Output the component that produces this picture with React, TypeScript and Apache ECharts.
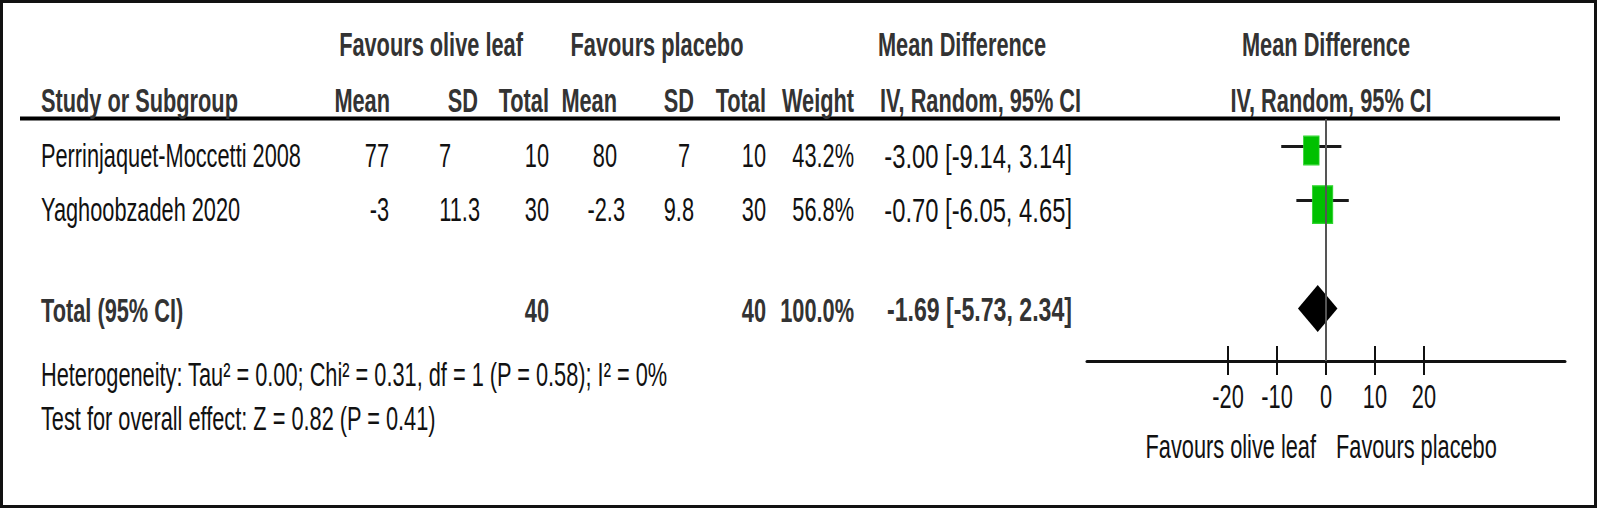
import React, { useEffect, useRef } from "react";
import * as echarts from "echarts";

// ---------- data ----------
const studies = ["Perrinjaquet-Moccetti 2008", "Yaghoobzadeh 2020"];
const oliveMean = ["77", "-3"];
const oliveSD = ["7", "11.3"];
const oliveTotal = ["10", "30"];
const placeboMean = ["80", "-2.3"];
const placeboSD = ["7", "9.8"];
const placeboTotal = ["10", "30"];
const weights = [43.2, 56.8];
const meanDiff = [-3.0, -0.7];
const ciLow = [-9.14, -6.05];
const ciHigh = [3.14, 4.65];
const totalLabel = "Total (95% CI)";
const totalOlive = "40";
const totalPlacebo = "40";
const totalWeight = 100.0;
const totalMD = -1.69;
const totalLow = -5.73;
const totalHigh = 2.34;
const tickValues = [-20, -10, 0, 10, 20];
const heterogeneityText = "Heterogeneity: Tau² = 0.00; Chi² = 0.31, df = 1 (P = 0.58); I² = 0%";
const overallText = "Test for overall effect: Z = 0.82 (P = 0.41)";
const groupHeaders = ["Favours olive leaf", "Favours placebo", "Mean Difference", "Mean Difference"];
const colHeaders = ["Study or Subgroup", "Mean", "SD", "Total", "Mean", "SD", "Total", "Weight", "IV, Random, 95% CI", "IV, Random, 95% CI"];
const axisLeftLabel = "Favours olive leaf";
const axisRightLabel = "Favours placebo";

// ---------- layout ----------
const W = 1599;
const H = 510;
const FONT = "'Liberation Sans', Arial, Helvetica, sans-serif";
const FS = 34;
const SX = 0.64;
const GRID_LEFT = 1087;
const GRID_RIGHT_PX = 1565;
const GRID_TOP = 119;
const AXIS_Y = 361;
const X_MIN = -48.8;
const X_MAX = 48.8;
const Y_MIN = -0.51;
const Y_MAX = 3.97;
const rowPos = [0, 1];
const totalPos = 3;
const STUDY_TEXT_DY = 9;
const TOTAL_TEXT_DY = 1;

const rowY = (v: number) => GRID_TOP + ((v - Y_MIN) / (Y_MAX - Y_MIN)) * (AXIS_Y - GRID_TOP);
const fmt2 = (v: number) => v.toFixed(2);
const ciText = (m: number, l: number, h: number) => `${fmt2(m)} [${fmt2(l)}, ${fmt2(h)}]`;

function txt(text: string, x: number, y: number, align: string, bold = false, sx = SX): any {
  return {
    type: "text",
    x,
    y,
    scaleX: sx,
    silent: true,
    style: {
      text,
      fontSize: FS,
      fontFamily: FONT,
      fontWeight: bold ? "bold" : "normal",
      fill: bold ? "#333333" : "#111111",
      textAlign: align,
      textVerticalAlign: "middle",
    },
  };
}

export default function App() {
  const ref = useRef<HTMLDivElement>(null);
  useEffect(() => {
    if (!ref.current) return;
    const chart = echarts.init(ref.current, undefined, { renderer: "svg", width: W, height: H });

    const xAxisBase = {
      type: "value",
      min: X_MIN,
      max: X_MAX,
      position: "bottom",
      splitLine: { show: false },
      axisLabel: { show: false },
    };

    chart.setOption({
      animation: false,
      backgroundColor: "#ffffff",
      grid: { left: GRID_LEFT, right: W - GRID_RIGHT_PX, top: GRID_TOP, bottom: H - AXIS_Y, containLabel: false },
      xAxis: [
        {
          ...xAxisBase,
          axisLine: { show: true, onZero: false, lineStyle: { color: "#111111", width: 3 } },
          axisTick: { show: true, customValues: tickValues, length: 14, lineStyle: { color: "#111111", width: 2 } },
        },
        {
          ...xAxisBase,
          axisLine: { show: false, onZero: false },
          axisTick: { show: true, inside: true, customValues: tickValues, length: 15, lineStyle: { color: "#111111", width: 2 } },
        },
      ],
      yAxis: { type: "value", inverse: true, min: Y_MIN, max: Y_MAX, show: false },
      series: [
        {
          type: "custom",
          name: "CI",
          silent: true,
          data: studies.map((_, i) => [ciLow[i], ciHigh[i], rowPos[i]]),
          encode: { x: [0, 1], y: 2 },
          renderItem: (_p: any, api: any) => {
            const a = api.coord([api.value(0), api.value(2)]);
            const b = api.coord([api.value(1), api.value(2)]);
            return {
              type: "line",
              shape: { x1: a[0], y1: a[1], x2: b[0], y2: b[1] },
              style: { stroke: "#1a1a1a", lineWidth: 3 },
            };
          },
          markLine: {
            silent: true,
            symbol: "none",
            label: { show: false },
            lineStyle: { color: "#555555", width: 2, type: "solid" },
            data: [{ xAxis: 0 }],
          },
          z: 2,
        },
        {
          type: "scatter",
          name: "Studies",
          silent: true,
          symbol: "rect",
          symbolOffset: [0, 4],
          symbolSize: (v: number[]) => [v[2] * 0.36, v[2] * 0.66],
          itemStyle: { color: "#00c000", borderColor: "#2fd52f", borderWidth: 1, opacity: 1 },
          data: studies.map((_, i) => [meanDiff[i], rowPos[i], weights[i]]),
          z: 3,
        },
        {
          type: "custom",
          name: "Total",
          silent: true,
          data: [[totalLow, totalMD, totalHigh, totalPos]],
          encode: { x: [0, 1, 2], y: 3 },
          renderItem: (_p: any, api: any) => {
            const l = api.coord([api.value(0), api.value(3)]);
            const m = api.coord([api.value(1), api.value(3)]);
            const h = api.coord([api.value(2), api.value(3)]);
            const hh = 23.5;
            return {
              type: "polygon",
              shape: { points: [[l[0], l[1]], [m[0], m[1] - hh], [h[0], h[1]], [m[0], m[1] + hh]] },
              style: { fill: "#000000" },
            };
          },
          z: 4,
        },
      ],
    });

    // ---------- texts ----------
    const g: any[] = [];
    g.push({ type: "rect", silent: true, shape: { x: 1.5, y: 1.5, width: W - 5, height: H - 5 }, style: { fill: "none", stroke: "#111111", lineWidth: 3 } });
    g.push({ type: "line", silent: true, shape: { x1: 20, y1: 118.5, x2: 1560, y2: 118.5 }, style: { stroke: "#000000", lineWidth: 4 } });

    const h1y = 44;
    const h2y = 100;
    const h1x = [431, 657, 962, 1326];
    groupHeaders.forEach((t, i) => g.push(txt(t, h1x[i], h1y, "center", true)));
    const h2x = [41, 390, 478, 549, 617, 694, 766, 854, 880, 1331];
    const h2a = ["left", "right", "right", "right", "right", "right", "right", "right", "left", "center"];
    colHeaders.forEach((t, i) => g.push(txt(t, h2x[i], h2y, h2a[i], true)));

    const colX = { mean1: 389, sd1: [451, 480], tot1: 549, mean2: [617, 625], sd2: [690, 694], tot2: 766, weight: 854, ci: 1072, ciLeft: 884 };
    const CI_SX = 0.7;
    studies.forEach((s, i) => {
      const y = rowY(rowPos[i]) + STUDY_TEXT_DY;
      g.push(txt(s, 41, y, "left"));
      g.push(txt(oliveMean[i], colX.mean1, y, "right"));
      g.push(txt(oliveSD[i], colX.sd1[i], y, "right"));
      g.push(txt(oliveTotal[i], colX.tot1, y, "right"));
      g.push(txt(placeboMean[i], colX.mean2[i], y, "right"));
      g.push(txt(placeboSD[i], colX.sd2[i], y, "right"));
      g.push(txt(placeboTotal[i], colX.tot2, y, "right"));
      g.push(txt(`${weights[i].toFixed(1)}%`, colX.weight, y, "right"));
      g.push(txt(ciText(meanDiff[i], ciLow[i], ciHigh[i]), colX.ci, y, "right", false, CI_SX));
    });
    const ty = rowY(totalPos) + TOTAL_TEXT_DY;
    g.push(txt(totalLabel, 41, ty, "left", true));
    g.push(txt(totalOlive, colX.tot1, ty, "right", true));
    g.push(txt(totalPlacebo, colX.tot2, ty, "right", true));
    g.push(txt(`${totalWeight.toFixed(1)}%`, colX.weight, ty, "right", true));
    g.push(txt(ciText(totalMD, totalLow, totalHigh), colX.ci, ty, "right", true, 0.68));

    g.push(txt(heterogeneityText, 41, 374, "left"));
    g.push(txt(overallText, 41, 418, "left"));

    tickValues.forEach((v) => {
      const px = chart.convertToPixel({ xAxisIndex: 0 }, v) as number;
      g.push(txt(String(v), px, 396, "center"));
    });
    const zeroPx = chart.convertToPixel({ xAxisIndex: 0 }, 0) as number;
    g.push(txt(axisLeftLabel, zeroPx - 10, 446, "right"));
    g.push(txt(axisRightLabel, zeroPx + 10, 446, "left"));

    chart.setOption({ graphic: { elements: g } });

    return () => chart.dispose();
  }, []);

  return (
    <div
      ref={ref}
      style={{ position: "absolute", left: 0, top: 0, width: W, height: H, background: "#ffffff" }}
    />
  );
}
